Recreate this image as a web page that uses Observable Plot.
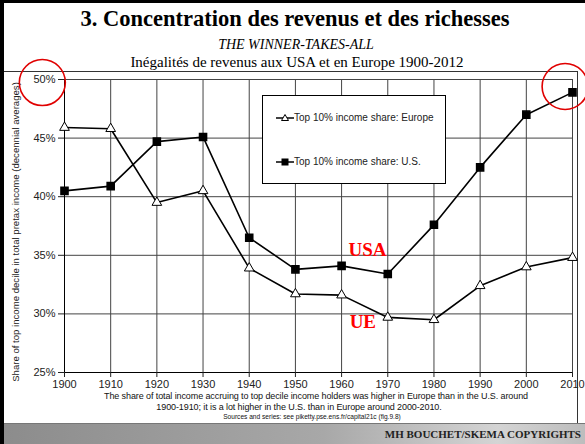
<!DOCTYPE html>
<html><head><meta charset="utf-8">
<script src="https://cdn.jsdelivr.net/npm/d3@7"></script>
<script src="https://cdn.jsdelivr.net/npm/@observablehq/plot@0.6"></script>
<style>
body{margin:0;background:#fff;}
#wrap{position:relative;width:585px;height:444px;overflow:hidden;background:#fff;font-family:"Liberation Sans",Arial,sans-serif;}
.abs{position:absolute;white-space:nowrap;}
.serif{font-family:"Liberation Serif","Times New Roman",serif;color:#000;}
</style></head>
<body><div id="wrap"></div>
<script>
const years = [1900,1910,1920,1930,1940,1950,1960,1970,1980,1990,2000,2010];
const europe = [45.9,45.8,39.5,40.5,33.9,31.7,31.6,29.7,29.5,32.4,34.0,34.8];
const us = [40.5,40.9,44.7,45.1,36.5,33.8,34.1,33.4,37.6,42.5,47.0,48.9];
const yTicks = [25,30,35,40,45,50];
const title = "3. Concentration des revenus et des richesses";
const subtitle = "THE WINNER-TAKES-ALL";
const subtitle2 = "Inégalités de revenus aux USA et en Europe 1900-2012";
const yLabel = "Share of top income decile in total pretax income (decennial averages)";
const caption1 = "The share of total income accruing to top decile income holders was higher in Europe than in the U.S. around";
const caption2 = "1900-1910; it is a lot higher in the U.S. than in Europe around 2000-2010.";
const caption3 = "Sources and series: see piketty.pse.ens.fr/capital21c (fig.9.8)";
const legendLabels = ["Top 10% income share: Europe","Top 10% income share: U.S."];
const annotLabels = ["USA","UE"];
const annotYears = [1965.6,1964.6];
const annotValues = [35.5,29.35];
const circleYears = [1895.2,2008.4];
const circleValues = [49.74,49.4];
const footer = "MH BOUCHET/SKEMA COPYRIGHTS";

const eu = years.map((y,i)=>({year:y, v:europe[i]}));
const usd = years.map((y,i)=>({year:y, v:us[i]}));
const annots = annotLabels.map((t,i)=>({t, year:annotYears[i], v:annotValues[i]}));
const circles = circleYears.map((y,i)=>({year:y, v:circleValues[i]}));

const wrap = document.getElementById("wrap");

const chart = Plot.plot({
  width:585, height:444,
  marginLeft:64, marginRight:13, marginTop:79, marginBottom:72,
  style:{fontFamily:"'Liberation Sans',Arial,sans-serif", background:"transparent", overflow:"visible"},
  x:{domain:[1900,2010]},
  y:{domain:[25,50]},
  marks:[
    Plot.gridX(years,{stroke:"#444", strokeOpacity:1, strokeWidth:1}),
    Plot.gridY(yTicks,{stroke:"#444", strokeOpacity:1, strokeWidth:1}),
    Plot.ruleX([1900],{stroke:"#000"}),
    Plot.ruleY([25],{stroke:"#000"}),
    Plot.axisX({ticks:years, tickFormat:d=>String(d), tickSize:5, tickPadding:3, fontSize:11, color:"#222", label:null}),
    Plot.axisY({ticks:yTicks, tickFormat:d=>d+"%", tickSize:6, tickPadding:3, fontSize:11, color:"#222", label:null}),
    Plot.text([yLabel],{frameAnchor:"left", textAnchor:"middle", rotate:-90, dx:-49, dy:6, fontSize:9.6, fill:"#222"}),
    Plot.line(eu,{x:"year", y:"v", stroke:"#000", strokeWidth:1.6}),
    Plot.line(usd,{x:"year", y:"v", stroke:"#000", strokeWidth:1.6}),
    Plot.dot(eu,{x:"year", y:"v", symbol:"triangle", r:3.6, fill:"#fff", stroke:"#000", strokeWidth:1}),
    Plot.dot(usd,{x:"year", y:"v", symbol:"square", r:4, fill:"#000", stroke:"#000"}),
    Plot.text(annots,{x:"year", y:"v", text:"t", fill:"#ff0000", fontSize:19, fontWeight:"bold", fontFamily:"'Liberation Serif','Times New Roman',serif"}),
    Plot.dot(circles,{x:"year", y:"v", r:23, stroke:"#e00000", strokeWidth:1.6, fill:"none"})
  ]
});
chart.style.position="absolute";
chart.style.left="0px";
chart.style.top="0px";

function div(css, html){const d=document.createElement("div");d.className="abs";d.style.cssText=css;if(html!==undefined)d.innerHTML=html;wrap.appendChild(d);return d;}
div("left:0;top:0;width:585px;height:3px;background:#000;");
div("left:0;top:0;width:4px;height:444px;background:#000;");
div("left:4px;top:71px;width:574px;height:1px;background:#333;");
div("left:577px;top:71px;width:1px;height:352px;background:#333;");
div("left:4px;top:423px;width:581px;height:21px;background:linear-gradient(90deg,#8c8c8c 0%,#a8a8a8 55%,#d4d4d4 85%,#bdbdbd 100%);border-top:1px solid #777;");
wrap.appendChild(chart);

div("left:0;width:590px;top:6px;text-align:center;font-size:22.5px;font-weight:bold;line-height:26px;", title).classList.add("serif");
div("left:0;width:592px;top:37px;text-align:center;font-size:14px;font-style:italic;line-height:16px;", subtitle).classList.add("serif");
div("left:0;width:594px;top:54px;text-align:center;font-size:15px;line-height:17px;", subtitle2).classList.add("serif");

div("left:0;width:632px;top:391px;text-align:center;font-size:9px;line-height:10px;color:#111;letter-spacing:-0.1px;", caption1);
div("left:0;width:598px;top:402px;text-align:center;font-size:9px;line-height:10px;color:#111;letter-spacing:-0.1px;", caption2);
div("left:0;width:624px;top:413px;text-align:center;font-size:6.6px;line-height:8px;color:#111;", caption3);

div("right:4px;top:428px;font-size:11px;font-weight:bold;line-height:13px;color:#222;", footer).classList.add("serif");

const leg = div("left:262px;top:95px;width:182px;height:87px;background:#fff;border:1px solid #000;");
const mk = [
 '<svg width="18" height="10" style="vertical-align:middle"><line x1="0" y1="5" x2="18" y2="5" stroke="#000" stroke-width="1.5"/><path d="M9,1.5 L12.5,7.5 L5.5,7.5 Z" fill="#fff" stroke="#000" stroke-width="1"/></svg>',
 '<svg width="18" height="10" style="vertical-align:middle"><line x1="0" y1="5" x2="18" y2="5" stroke="#000" stroke-width="1.5"/><rect x="5.5" y="1.5" width="7" height="7" fill="#000"/></svg>'
];
legendLabels.forEach((t,i)=>{
  div(`left:276px;top:${[113,157][i]}px;font-size:10px;line-height:10px;color:#222;`, mk[i] + '<span style="vertical-align:middle">' + t + '</span>');
});
</script>
</body></html>
